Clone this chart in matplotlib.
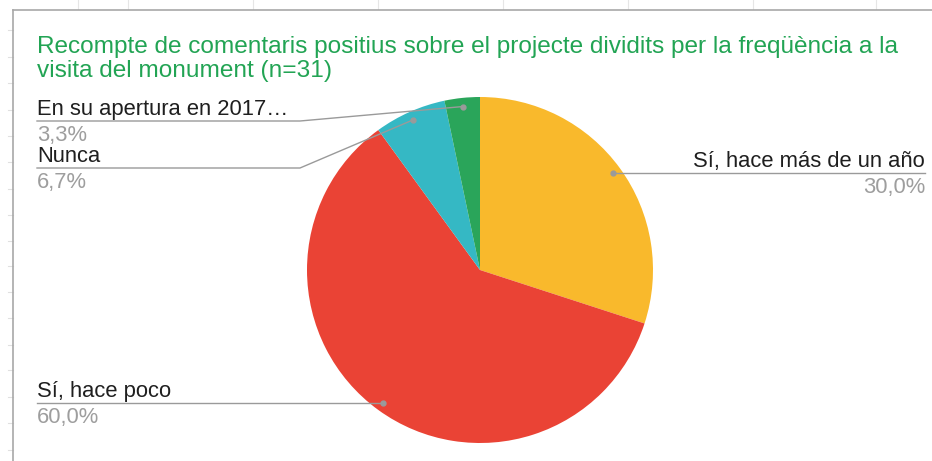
import numpy as np
import matplotlib
matplotlib.use("Agg")
import matplotlib.pyplot as plt

plt.rcParams['font.family'] = ['Liberation Sans', 'DejaVu Sans']

# respostes i percentatges
labels = ["Sí, hace más de un año", "Sí, hace poco", "Nunca", "En su apertura en 2017…"]
pct = [30.0, 60.0, 6.7, 3.3]
pct_text = ["30,0%", "60,0%", "6,7%", "3,3%"]
colors = ["#F9B92C", "#EA4335", "#35B8C4", "#2AA55A"]

title_lines = ["Recompte de comentaris positius sobre el projecte dividits per la freqüència a la",
               "visita del monument (n=31)"]

W, H = 932, 461
fig = plt.figure(figsize=(W / 100, H / 100), dpi=100)
ax = fig.add_axes([0, 0, 1, 1])

def Y(y):
    # pixel rows counted from the top
    return H - y

cx, cy, r = 480, Y(270), 173
wedges, _ = ax.pie(pct, colors=colors, startangle=90, counterclock=False,
                   center=(cx, cy), radius=r, frame=True,
                   wedgeprops=dict(linewidth=0))
ax.set_xlim(0, W)
ax.set_ylim(0, H)
ax.set_aspect('equal')
ax.axis('off')

# faint sheet grid peeking around the chart frame
for gx in [78, 128, 253, 378, 503, 628, 753, 876]:
    ax.plot([gx, gx], [Y(0), Y(9)], color="#e6e6e6", lw=0.8)
for gy in [30, 57, 83, 110, 136, 162, 189, 215, 241, 266, 292, 318, 345, 370, 397, 423, 450]:
    ax.plot([8, 13], [Y(gy), Y(gy)], color="#e0e0e0", lw=0.8)
ax.plot([13, W], [Y(10), Y(10)], color="#a8a8a8", lw=1.2)
ax.plot([13, 13], [Y(10), 0], color="#a8a8a8", lw=1.2)

for k, line in enumerate(title_lines):
    ax.text(37, Y(53 + 24 * k), line, color="#22A454", fontsize=17.6,
            ha='left', va='baseline')

# label layout: (text x, underline y, elbow x, align)
layout = {
    0: (925, 173, None, 'right'),
    1: (37, 402, None, 'left'),
    2: (37, 168, 300, 'left'),
    3: (37, 121, 300, 'left'),
}

for i, w in enumerate(wedges):
    mid = np.deg2rad((w.theta1 + w.theta2) / 2)
    dx = cx + 0.95 * r * np.cos(mid)
    dy = cy + 0.95 * r * np.sin(mid)
    tx, uy, ex, ha = layout[i]
    if ex is None:
        ax.plot([dx, tx], [dy, dy], color="#9a9a9a", lw=1.0)
        uy_d = dy
    else:
        uy_d = Y(uy)
        ax.plot([dx, ex, tx], [dy, uy_d, uy_d], color="#9a9a9a", lw=1.0)
    ax.plot(dx, dy, 'o', color="#9a9a9a", ms=3.5)
    ax.text(tx, uy_d + 6, labels[i], color="#1f1f1f", fontsize=15.8, ha=ha, va='baseline')
    ax.text(tx, uy_d - 20, pct_text[i], color="#9e9e9e", fontsize=15.8, ha=ha, va='baseline')

fig.savefig("out.png", dpi=100)
